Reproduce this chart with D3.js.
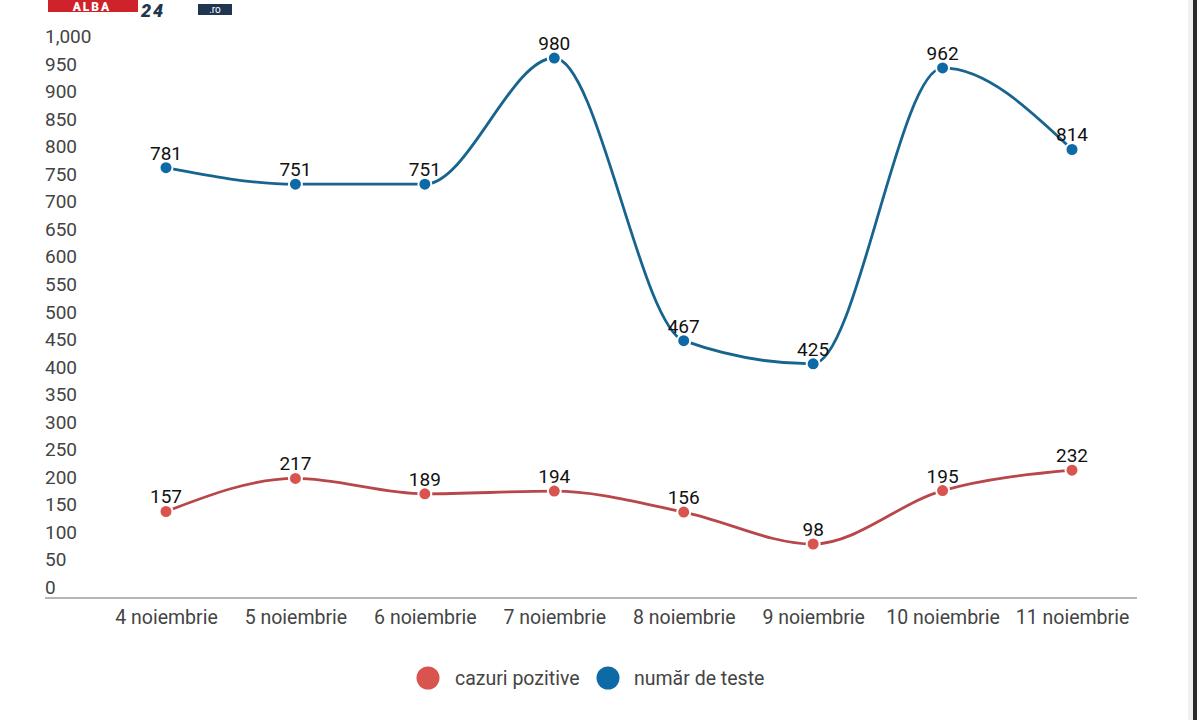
<!DOCTYPE html>
<html><head><meta charset="utf-8">
<script src="https://cdn.jsdelivr.net/npm/d3@7"></script>
<style>
html,body{margin:0;padding:0;background:#fff;}
svg{display:block;font-family:Roboto, "Noto Sans", sans-serif;}
</style></head>
<body>
<svg id="chart" width="1200" height="720"></svg>
<script>
const categories = ["4 noiembrie","5 noiembrie","6 noiembrie","7 noiembrie","8 noiembrie","9 noiembrie","10 noiembrie","11 noiembrie"];
const cazuriPozitive = [157,217,189,194,156,98,195,232];
const numarTeste = [781,751,751,980,467,425,962,814];
const yTicks = [0,50,100,150,200,250,300,350,400,450,500,550,600,650,700,750,800,850,900,950,1000];
const seriesNames = ["cazuri pozitive","număr de teste"];

const svg = d3.select("#chart");
const x = d3.scalePoint().domain(categories).range([166,1072]);
const y = d3.scaleLinear().domain([0,1000]).range([598,47]);

// logo fragment at top
const logo = svg.append("g");
logo.append("rect").attr("x",48).attr("y",0).attr("width",90).attr("height",12).attr("fill","#d0222a");
logo.append("text").attr("x",92).attr("y",10.5).attr("text-anchor","middle").attr("fill","#fff")
  .attr("font-size",12).attr("font-weight",900).attr("letter-spacing",2).text("ALBA");
logo.append("text").attr("x",141).attr("y",17).attr("fill","#1f3550").attr("font-size",18)
  .attr("font-weight",900).attr("font-style","italic").attr("letter-spacing",2).text("24");
logo.append("rect").attr("x",198).attr("y",4).attr("width",34).attr("height",11).attr("fill","#1f3550");
logo.append("text").attr("x",215).attr("y",13).attr("text-anchor","middle").attr("fill","#fff")
  .attr("font-size",10).text(".ro");

// right border
svg.append("rect").attr("x",1193).attr("y",0).attr("width",4).attr("height",720).attr("fill","#2b2b2b");
svg.append("rect").attr("x",1188).attr("y",0).attr("width",5).attr("height",720).attr("fill","#f0f0f0");

// y axis labels
const yAxis = d3.axisLeft(y).tickValues(yTicks).tickSize(0).tickFormat(d3.format(","));
const yg = svg.append("g").attr("transform","translate(45,0)").call(yAxis);
yg.select(".domain").remove();
yg.selectAll("text").attr("text-anchor","start").attr("x",0).attr("dy",null)
  .attr("y",-4.5).attr("fill","#444").attr("font-size",19).attr("font-family","Roboto, sans-serif");

// x axis
const xAxis = d3.axisBottom(x).tickSize(0).tickPadding(0);
const xg = svg.append("g").attr("transform","translate(0,598)").call(xAxis);
xg.select(".domain").remove();
xg.selectAll("text").attr("dy",null).attr("y",26).attr("fill","#444").attr("font-size",19.5)
  .attr("font-family","Roboto, sans-serif");
svg.append("line").attr("x1",45).attr("x2",1137).attr("y1",y(0)).attr("y2",y(0))
  .attr("stroke","#b5b5b5").attr("stroke-width",2);

const series = [
  {name:seriesNames[0], values:cazuriPozitive, line:"#b8474b", dot:"#d9534f"},
  {name:seriesNames[1], values:numarTeste, line:"#17648f", dot:"#0d6aa6"}
];
const lineGen = d3.line().x((d,i)=>x(categories[i])).y(d=>y(d)).curve(d3.curveMonotoneX);

series.forEach(s=>{
  svg.append("path").attr("d",lineGen(s.values)).attr("fill","none")
    .attr("stroke",s.line).attr("stroke-width",2.8);
});
series.forEach(s=>{
  const g = svg.append("g");
  g.selectAll("circle").data(s.values).join("circle")
    .attr("cx",(d,i)=>x(categories[i])).attr("cy",d=>y(d)).attr("r",6.5)
    .attr("fill",s.dot).attr("stroke","#fff").attr("stroke-width",2);
  g.selectAll("text").data(s.values).join("text")
    .attr("x",(d,i)=>x(categories[i])).attr("y",d=>y(d)-8)
    .attr("text-anchor","middle").attr("fill","#111").attr("font-size",19)
    .text(d=>d);
});

// legend
const legend = [{x:428,tx:455,c:series[0].dot,t:seriesNames[0]},{x:608,tx:634,c:series[1].dot,t:seriesNames[1]}];
legend.forEach(l=>{
  svg.append("circle").attr("cx",l.x).attr("cy",678).attr("r",11.5).attr("fill",l.c);
  svg.append("text").attr("x",l.tx).attr("y",684.5).attr("fill","#444").attr("font-size",19.5).text(l.t);
});
</script>
</body></html>
